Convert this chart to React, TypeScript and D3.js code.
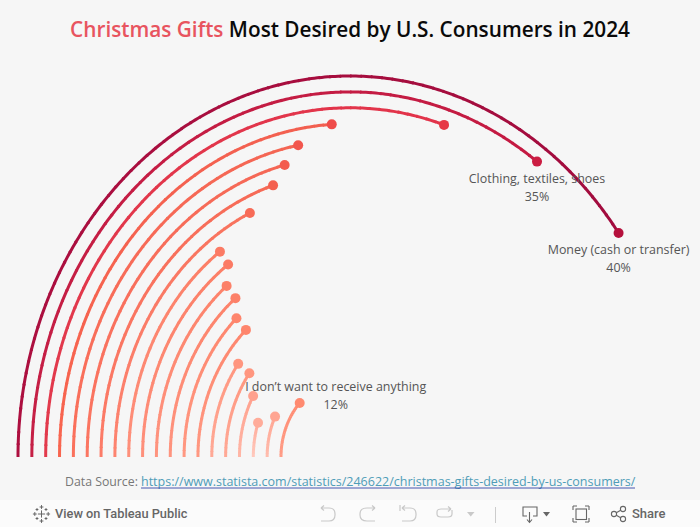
import * as d3 from 'd3';

// one entry per arc, outermost first. Only three are named in the picture.
const labels = [
  'Money (cash or transfer)',
  'Clothing, textiles, shoes',
  '', '', '', '', '', '', '', '', '', '', '', '', '', '', '', '', '',
  'I don\u2019t want to receive anything',
];
const values = [40, 35, 30, 24, 22, 21, 20, 18, 15, 15, 14, 14, 13, 13, 10, 10, 8, 5, 7, 12];

const colorStops = [5, 8, 12, 20, 24, 30, 35, 40];
const lineStartColors = ['#ffc8bc', '#ffb6a6', '#ff9c86', '#fc7c68', '#f8654f', '#e23a4c', '#c51f45', '#ad0f3f'];
const lineEndColors = ['#ffac9a', '#ffa18e', '#ff8a70', '#f66a56', '#f25f50', '#e2334a', '#c41a42', '#a20c3e'];
const dotColors = ['#ffac9a', '#ffa18e', '#ff8a70', '#f4604f', '#ef4c4a', '#e63946', '#cb1d42', '#b5103c'];

const width = 700;
const height = 527;
const cx = 350;
const baseY = 457;

const rxScale = d3.scaleLinear().domain([0, values.length - 1]).range([332, 69]);
const ryScale = d3.scaleLinear().domain([0, values.length - 1]).range([381, 79]);
const angle = d3.scaleLinear().domain([0, 100]).range([0, 2 * Math.PI]);
const startColor = d3.scaleLinear<string>().domain(colorStops).range(lineStartColors);
const endColor = d3.scaleLinear<string>().domain(colorStops).range(lineEndColors);
const dotColor = d3.scaleLinear<string>().domain(colorStops).range(dotColors);

const arcPoint = (i: number, v: number): [number, number] => {
  const a = angle(v);
  return [cx - rxScale(i) * Math.cos(a), baseY - ryScale(i) * Math.sin(a)];
};

const line = d3.line();

const ArcMark = ({ i, v }: { i: number; v: number }) => {
  const steps = Math.ceil(v * 2);
  const parts = d3.range(steps).map((s) => {
    const from = (v * s) / steps;
    const to = (v * (s + 1.15)) / steps;
    const mix = d3.interpolateRgb(startColor(v), endColor(v))(s / (steps - 1));
    const pts = d3.range(5).map((k) => arcPoint(i, from + ((Math.min(to, v) - from) * k) / 4));
    return <path key={s} d={line(pts) ?? ''} stroke={mix} />;
  });
  const [x, y] = arcPoint(i, v);
  return (
    <g>
      <g fill="none" strokeWidth={3}>{parts}</g>
      <circle cx={x} cy={y} r={5} fill={dotColor(v)} />
    </g>
  );
};

const labelStyle = { fontFamily: '"Open Sans", sans-serif', fontSize: 12.45, fill: '#555' };
const toolFont = { fontFamily: 'Roboto, sans-serif', fontSize: 12.8, fontWeight: 500, fill: '#666' };

const TableauLogo = () => {
  const plus = (x: number, y: number, s: number, k: string) => (
    <path key={k} d={`M${x - s},${y}H${x + s}M${x},${y - s}V${y + s}`} />
  );
  return (
    <g stroke="#666" strokeWidth={1} fill="none">
      {plus(41.5, 514, 3.6, 'c')}
      {plus(41.5, 507, 1.9, 't')}
      {plus(41.5, 521, 1.9, 'b')}
      {plus(34.8, 514, 1.9, 'l')}
      {plus(48.2, 514, 1.9, 'r')}
      {plus(37, 509.5, 1.4, 'tl')}
      {plus(46, 509.5, 1.4, 'tr')}
      {plus(37, 518.5, 1.4, 'bl')}
      {plus(46, 518.5, 1.4, 'br')}
    </g>
  );
};

const Toolbar = () => (
  <g>
    <rect x={0} y={500} width={width} height={27} fill="#fbfbfb" />
    <TableauLogo />
    <text x={55} y={518} {...toolFont}>View on Tableau Public</text>
    <g fill="none" stroke="#c9c9c9" strokeWidth={1.2}>
      <path d="M321,508H329Q335,508 335,514V515Q335,521 329,521H321M321,508l3,-2.5M321,508l3,2.5" />
      <path d="M375,508H367Q360,508 360,514V515Q360,521 367,521H375M375,508l-3,-2.5M375,508l-3,2.5" />
      <path d="M402,508H410Q416,508 416,514V515Q416,521 410,521H402M402,508l3,-2.5M402,508l3,2.5M400,505V511" />
      <path d="M451,509H441Q437,509 437,512V514Q437,517 441,517H448Q452,517 452,514V510M451,509l-3,-2.5M451,509l-3,2.5" />
    </g>
    <path d="M467,512h7.5l-3.75,4.5z" fill="#c9c9c9" />
    <path d="M495.5,507V523" stroke="#ccc" strokeWidth={1} />
    <g fill="none" stroke="#666" strokeWidth={1.1}>
      <path d="M527,516H523V507H537V516H533" />
      <path d="M529.5,512V522M527,519.5L529.5,522.5L532,519.5" />
      <path d="M573,506H577M573,506V510M589,506H585M589,506V510M573,522H577M573,522V518M589,522H585M589,522V518" />
      <rect x={576} y={509} width={10.5} height={10.5} />
      <circle cx={614} cy={514} r={2.6} />
      <circle cx={623} cy={509} r={2.6} />
      <circle cx={623} cy={519} r={2.6} />
      <path d="M616.3,512.7L620.7,510.3M616.3,515.3L620.7,517.7" />
    </g>
    <path d="M543,512h7l-3.5,4.5z" fill="#666" />
    <text x={632} y={518} {...toolFont} fontSize={13}>Share</text>
  </g>
);

export default function App() {
  return (
    <svg
      width={width}
      height={height}
      viewBox={`0 0 ${width} ${height}`}
      style={{ position: 'absolute', left: 0, top: 0, display: 'block', background: '#f6f6f6' }}
    >
      <text
        x={350}
        y={37}
        textAnchor="middle"
        style={{ fontFamily: '"Open Sans", sans-serif', fontSize: 20.75, fontWeight: 600 }}
      >
        <tspan fill="#e8545f">Christmas Gifts</tspan>
        <tspan fill="#0a0a0a"> Most Desired by U.S. Consumers in 2024</tspan>
      </text>

      {values.map((v, i) => <ArcMark key={i} i={i} v={v} />)}

      {values.map((v, i) => {
        if (!labels[i]) return null;
        const [x, y] = arcPoint(i, v);
        // the last label sits to the right of its dot, the others below
        const lx = i === values.length - 1 ? x + 36 : x;
        const ly = i === values.length - 1 ? y - 12 : y + 21;
        return (
          <g key={labels[i]} textAnchor="middle" style={labelStyle}>
            <text x={lx} y={ly}>{labels[i]}</text>
            <text x={lx} y={ly + 18}>{v}%</text>
          </g>
        );
      })}

      <text x={65} y={486} style={{ ...labelStyle, fontSize: 12.3, fill: '#777' }}>Data Source: </text>
      <text x={141} y={486} style={{ ...labelStyle, fontSize: 12.5, fill: '#4f9db8' }}>
        https://www.statista.com/statistics/246622/christmas-gifts-desired-by-us-consumers/
      </text>
      <path d="M141,488H635" stroke="#1a2fa0" strokeWidth={0.8} />

      <Toolbar />
    </svg>
  );
}
